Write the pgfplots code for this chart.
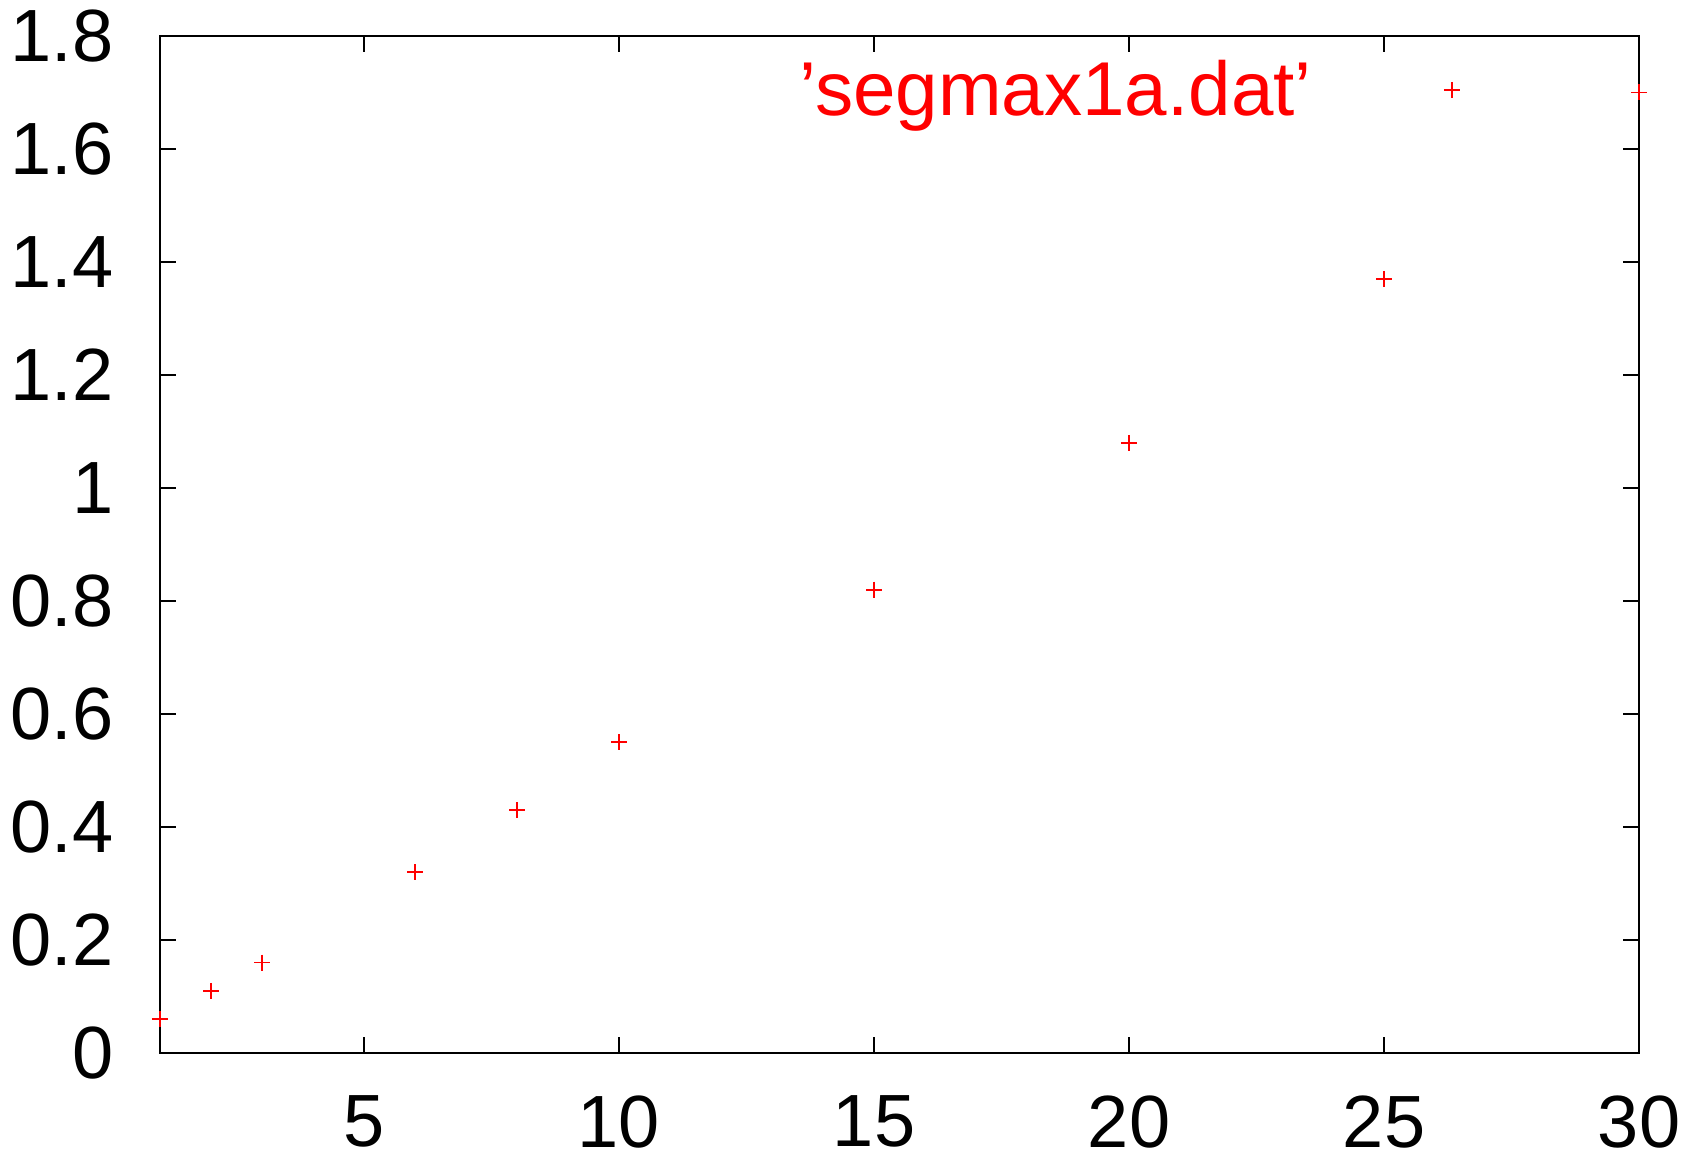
\documentclass[border=0pt]{standalone}
\usepackage{fontspec}
\setmainfont{Liberation Sans}
\usepackage{pgfplots}
\pgfplotsset{compat=1.18}

\begin{document}
\begin{tikzpicture}
\begin{axis}[
    scale only axis,
    width=443.7pt, height=305.1pt,
    xmin=1, xmax=30, ymin=0, ymax=1.8,
    xtick={5,10,15,20,25,30},
    ytick={0,0.2,0.4,0.6,0.8,1,1.2,1.4,1.6,1.8},
    tick align=inside,
    major tick length=4.8pt,
    axis line style={line width=0.6pt},
    every tick/.style={black, line width=0.6pt},
    /pgf/number format/assume math mode=true,
    /pgf/number format/fixed,
    tick label style={font=\fontsize{22.2}{24}\selectfont},
    yticklabel style={anchor=east, inner sep=0pt, xshift=-13.8pt},
    xticklabel style={anchor=north, inner sep=0pt, yshift=-12.6pt},
    legend plot pos=right,
    legend style={draw=none, fill=none, at={(rel axis cs:0.888,0.947)}, anchor=east,
        font=\fontsize{22.9}{25}\selectfont, text=red, inner sep=0pt},
    legend image code/.code={\path (0pt,0pt) (45.8pt,0pt);
        \draw plot[only marks] coordinates {(39.8pt,0pt)};},
]
\addplot[only marks, mark=+, red, mark size=2.4pt, line width=0.5pt] coordinates {
    (1,0.06) (2,0.11) (3,0.16) (6,0.32) (8,0.43) (10,0.55)
    (15,0.82) (20,1.08) (25,1.37) (30,1.70)
};
\addlegendentry{'segmax1a.dat'}
\end{axis}
\pgfresetboundingbox
\path ([shift={(-48pt,-32.1pt)}]current axis.south west)
    rectangle ([shift={(15.6pt,10.8pt)}]current axis.north east);
\end{tikzpicture}
\end{document}
